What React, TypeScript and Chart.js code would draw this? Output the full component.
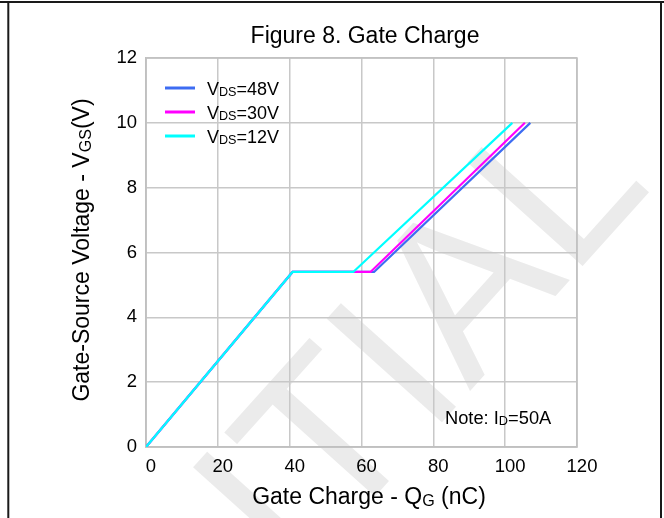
import React, { useEffect, useRef } from 'react';
import { Chart, registerables } from 'chart.js';

Chart.register(...registerables);

const FONT = '"Liberation Sans", Arial, sans-serif';

// ---- data ----
const xTickValues = [0, 20, 40, 60, 80, 100, 120];
const yTickValues = [0, 2, 4, 6, 8, 10, 12];

const seriesNames = ['48V', '30V', '12V'];
const qg48 = [0, 40.8, 63.5, 107];
const vgs48 = [0, 5.4, 5.4, 10];
const qg30 = [0, 40.8, 62.5, 105.5];
const vgs30 = [0, 5.4, 5.4, 10];
const qg12 = [0, 40.8, 57.7, 102];
const vgs12 = [0, 5.4, 5.4, 10];

const titleText = 'Figure 8. Gate Charge';
const noteText = 'Note: ';
const watermarkText = 'ITIAL';

const seriesColors = ['#3d6cf2', '#ff00ff', '#00ffff'];

type Part = { t: string; sub?: boolean };

function partsWidth(ctx: CanvasRenderingContext2D, parts: Part[], size: number) {
  let w = 0;
  for (const p of parts) {
    ctx.font = `${p.sub ? size * 0.7 : size}px ${FONT}`;
    w += ctx.measureText(p.t).width;
  }
  return w;
}

function drawRich(
  ctx: CanvasRenderingContext2D,
  parts: Part[],
  x: number,
  y: number,
  size: number,
  align: 'left' | 'center'
) {
  const w = partsWidth(ctx, parts, size);
  let cx = align === 'center' ? x - w / 2 : x;
  ctx.textAlign = 'left';
  ctx.textBaseline = 'alphabetic';
  ctx.fillStyle = '#000';
  for (const p of parts) {
    const s = p.sub ? size * 0.7 : size;
    ctx.font = `${s}px ${FONT}`;
    ctx.fillText(p.t, cx, p.sub ? y + size * 0.08 : y);
    cx += ctx.measureText(p.t).width;
  }
}

const decorPlugin = {
  id: 'decor',
  beforeDraw(chart: any) {
    const ctx: CanvasRenderingContext2D = chart.ctx;
    ctx.save();
    ctx.fillStyle = '#ffffff';
    ctx.fillRect(0, 0, chart.width, chart.height);
    // watermark
    ctx.translate(428, 345);
    ctx.rotate((-48 * Math.PI) / 180);
    ctx.fillStyle = '#ebebeb';
    ctx.font = `225px ${FONT}`;
    ctx.textAlign = 'center';
    ctx.textBaseline = 'middle';
    ctx.fillText(watermarkText, 0, 0);
    ctx.restore();
  },
  afterDraw(chart: any) {
    const ctx: CanvasRenderingContext2D = chart.ctx;
    const area = chart.chartArea;
    ctx.save();
    // frame
    ctx.strokeStyle = '#1a1a1a';
    ctx.lineWidth = 2;
    ctx.beginPath();
    ctx.moveTo(0, 2);
    ctx.lineTo(chart.width, 2);
    ctx.moveTo(8.3, 2);
    ctx.lineTo(8.3, chart.height);
    ctx.moveTo(661, 2);
    ctx.lineTo(661, chart.height);
    ctx.stroke();

    // title
    drawRich(ctx, [{ t: titleText }], 365, 43, 23, 'center');
    // x title
    drawRich(
      ctx,
      [{ t: 'Gate Charge - Q' }, { t: 'G', sub: true }, { t: ' (nC)' }],
      369,
      504,
      23,
      'center'
    );
    // y title
    ctx.save();
    ctx.translate(89, 250);
    ctx.rotate(-Math.PI / 2);
    drawRich(
      ctx,
      [{ t: 'Gate-Source Voltage - V' }, { t: 'GS', sub: true }, { t: '(V)' }],
      0,
      0,
      23,
      'center'
    );
    ctx.restore();

    // legend
    const ds = chart.data.datasets;
    for (let i = 0; i < ds.length; i++) {
      const ly = area.top + 30 + i * 24;
      ctx.strokeStyle = ds[i].borderColor;
      ctx.lineWidth = 3;
      ctx.beginPath();
      ctx.moveTo(area.left + 19, ly);
      ctx.lineTo(area.left + 49, ly);
      ctx.stroke();
      drawRich(
        ctx,
        [{ t: 'V' }, { t: 'DS', sub: true }, { t: '=' + seriesNames[i] }],
        area.left + 61,
        ly + 6.5,
        18,
        'left'
      );
    }

    // note
    drawRich(
      ctx,
      [{ t: noteText + 'I' }, { t: 'D', sub: true }, { t: '=50A' }],
      445,
      424,
      18.3,
      'left'
    );
    ctx.restore();
  },
};

function toPoints(xs: number[], ys: number[]) {
  return xs.map((x, i) => ({ x, y: ys[i] }));
}

export default function App() {
  const ref = useRef<HTMLCanvasElement | null>(null);

  useEffect(() => {
    document.body.style.margin = '0';
    const canvas = ref.current;
    if (!canvas) return;
    const chart = new Chart(canvas, {
      type: 'line',
      data: {
        datasets: [
          {
            label: 'VDS=' + seriesNames[0],
            data: toPoints(qg48, vgs48),
            borderColor: seriesColors[0],
            order: 2,
          },
          {
            label: 'VDS=' + seriesNames[1],
            data: toPoints(qg30, vgs30),
            borderColor: seriesColors[1],
            order: 1,
          },
          {
            label: 'VDS=' + seriesNames[2],
            data: toPoints(qg12, vgs12),
            borderColor: seriesColors[2],
            order: 0,
          },
        ] as any,
      },
      options: {
        animation: false,
        responsive: false,
        events: [],
        elements: {
          line: { borderWidth: 2.2, tension: 0, fill: false },
          point: { radius: 0 },
        },
        layout: { padding: { left: 106, top: 58, right: 87, bottom: 41 } },
        plugins: {
          legend: { display: false },
          title: { display: false },
          tooltip: { enabled: false },
        },
        scales: {
          x: {
            type: 'linear',
            min: 0,
            max: 120,
            afterBuildTicks: (s: any) => {
              s.ticks = xTickValues.map((v) => ({ value: v }));
            },
            afterFit: (s: any) => {
              s.height = 30;
            },
            ticks: {
              font: { family: FONT, size: 18.5 },
              color: '#000',
              padding: 9,
              labelOffset: 5,
              maxRotation: 0,
            },
            grid: { color: '#c8c8c8', lineWidth: 1.5, drawTicks: false },
            border: { color: '#c0c0c0', width: 1.5 },
          },
          y: {
            type: 'linear',
            min: 0,
            max: 12,
            afterBuildTicks: (s: any) => {
              s.ticks = yTickValues.map((v) => ({ value: v }));
            },
            afterFit: (s: any) => {
              s.width = 40;
            },
            ticks: {
              font: { family: FONT, size: 18.5 },
              color: '#000',
              padding: 9,
            },
            grid: { color: '#c8c8c8', lineWidth: 1.5, drawTicks: false },
            border: { color: '#c0c0c0', width: 1.5 },
          },
        },
      },
      plugins: [
        decorPlugin,
        {
          id: 'plotFrame',
          beforeDatasetsDraw(chart: any) {
            const { ctx, chartArea: a } = chart;
            ctx.save();
            ctx.strokeStyle = '#c0c0c0';
            ctx.lineWidth = 1.5;
            ctx.strokeRect(a.left, a.top, a.right - a.left, a.bottom - a.top);
            ctx.restore();
          },
        },
      ],
    } as any);
    return () => chart.destroy();
  }, []);

  return (
    <div style={{ position: 'absolute', left: 0, top: 0, width: 664, height: 518 }}>
      <canvas ref={ref} width={664} height={518} style={{ display: 'block' }} />
    </div>
  );
}
